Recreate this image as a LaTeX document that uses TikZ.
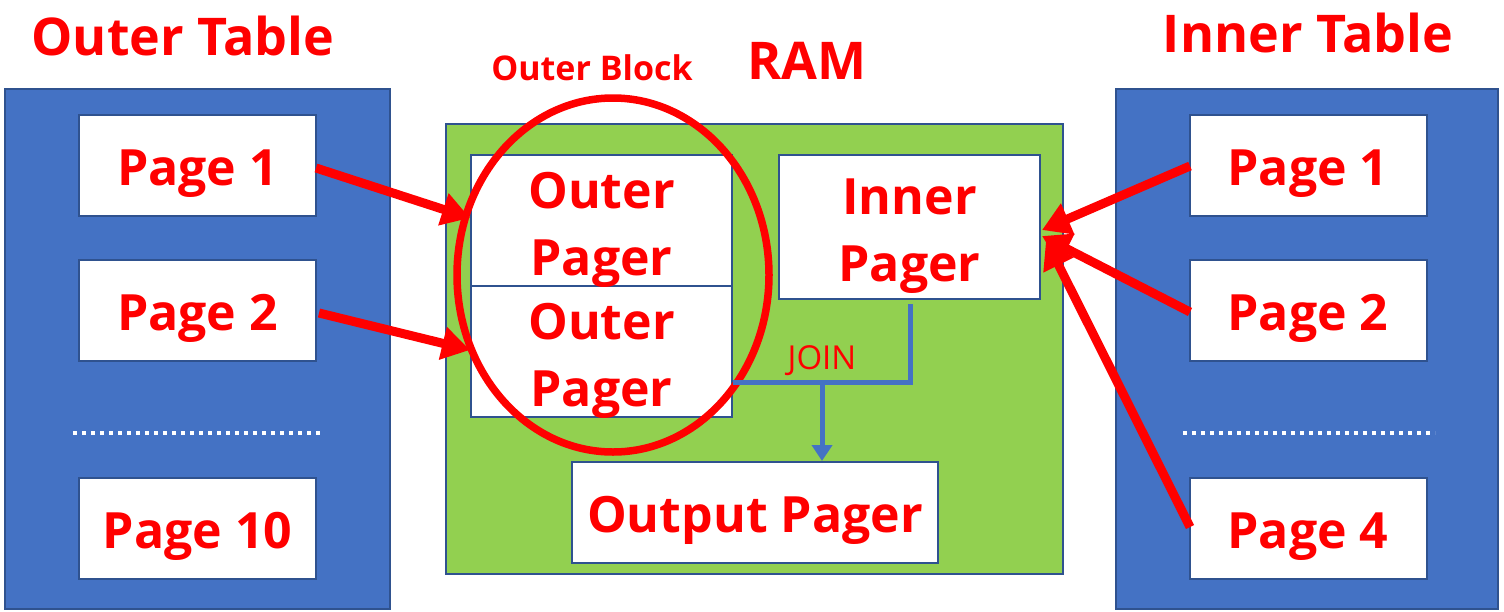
\documentclass[tikz,border=0pt]{standalone}
\usepackage{fontspec}
\setmainfont{Open Sans}
\usetikzlibrary{arrows.meta}
\definecolor{tblue}{HTML}{4472C4}
\definecolor{tborder}{HTML}{2F528F}
\definecolor{tgreen}{HTML}{92D050}
\definecolor{tred}{HTML}{FF0000}
\tikzset{
  panel/.style={draw=tborder, line width=2pt, fill=tblue},
  ram/.style={draw=tborder, line width=2pt, fill=tgreen},
  boxbase/.style={draw=tborder, line width=2pt, fill=white, inner sep=0pt},
  pagebox/.style={boxbase, minimum width=237pt, minimum height=101pt},
  redtext/.style={text=tred, inner sep=0pt, font=\fontsize{50}{67}\selectfont\bfseries, align=center},
  title/.style={text=tred, inner sep=0pt, font=\fontsize{52}{60}\selectfont\bfseries},
  redarrow/.style={draw=tred, line width=9pt, -{Triangle[length=28pt,width=32pt]}},
  joinline/.style={draw=tblue, line width=5pt},
  dots/.style={draw=white, line width=4pt, dash pattern=on 4pt off 5pt},
}
\begin{document}
\begin{tikzpicture}[x=1pt,y=-1pt]
\useasboundingbox (0,0) rectangle (1504,611);
% panels
\node[panel, minimum width=385pt, minimum height=520pt, inner sep=0pt] (lpanel) at (197.5,349) {};
\node[panel, minimum width=382pt, minimum height=520pt, inner sep=0pt] (rpanel) at (1307,349) {};
\node[ram, minimum width=617pt, minimum height=450pt, inner sep=0pt] (rampanel) at (754.5,349) {};
% titles
\node[title] (ltitle) at (183,36) {Outer Table};
\node[title] (rtitle) at (1308,33) {Inner Table};
\node[title] (ramtitle) at (807,61) {RAM};
\node[title, font=\fontsize{34}{40}\selectfont\bfseries] (obtitle) at (592,68) {Outer Block};
% left pages
\node[pagebox] (lp1) at (197.5,165.5) {};
\node[pagebox] (lp2) at (197.5,310.5) {};
\node[pagebox] (lp10) at (197.5,528.5) {};
\node[redtext] (lp1t) at ([yshift=-8pt]lp1.center) {Page 1};
\node[redtext] (lp2t) at ([yshift=-8pt]lp2.center) {Page 2};
\node[redtext] (lp10t) at ([yshift=-8pt]lp10.center) {Page 10};
\coordinate (ld1) at (73,433);
\coordinate (ld2) at (323,433);
\draw[dots] (ld1) -- (ld2);
% right pages
\node[pagebox] (rp1) at (1308,165.5) {};
\node[pagebox] (rp2) at (1308,310.5) {};
\node[pagebox] (rp4) at (1308,528.5) {};
\node[redtext] (rp1t) at ([yshift=-8pt]rp1.center) {Page 1};
\node[redtext] (rp2t) at ([yshift=-8pt]rp2.center) {Page 2};
\node[redtext] (rp4t) at ([yshift=-8pt]rp4.center) {Page 4};
\coordinate (rd1) at (1183,433);
\coordinate (rd2) at (1435,433);
\draw[dots] (rd1) -- (rd2);
% RAM contents
\node[boxbase, minimum width=261pt, minimum height=131pt] (op1) at (601.5,220.5) {};
\node[boxbase, minimum width=261pt, minimum height=131pt] (op2) at (601.5,351.5) {};
\node[boxbase, minimum width=261pt, minimum height=144pt] (ip) at (909.5,227) {};
\node[boxbase, minimum width=366pt, minimum height=101pt] (outp) at (755,512.5) {};
\node[redtext] (op1t) at ([yshift=-9pt]op1.center) {Outer\\Pager};
\node[redtext] (op2t) at ([yshift=-9pt]op2.center) {Outer\\Pager};
\node[redtext] (ipt) at ([yshift=-9pt]ip.center) {Inner\\Pager};
\node[redtext] (outpt) at ([yshift=-8pt]outp.center) {Output Pager};
% outer block ellipse
\draw[draw=tred, line width=7.5pt] (613,275) ellipse [x radius=156pt, y radius=177pt];
% join connector
\coordinate (jcorner) at (910,382);
\coordinate (jleft) at (733,382);
\coordinate (jmid) at (822,382);
\draw[joinline] (ip.south -| jcorner) ++(0,4) -- (jcorner) -- (jleft);
\draw[joinline, -{Triangle[length=16pt,width=20pt]}] (jmid) -- (outp.north -| jmid);
\node[text=tred, inner sep=0pt, font=\fontsize{33}{40}\selectfont] (join) at (822,361) {JOIN};
% red arrows
\coordinate (a1s) at (316,168);
\coordinate (a1e) at (470,218);
\coordinate (a2s) at (319,313);
\coordinate (a2e) at (470,350);
\draw[redarrow] (a1s) -- (a1e);
\draw[redarrow] (a2s) -- (a2e);
\coordinate (b1s) at (1190,166);
\coordinate (b2s) at (1190,312);
\coordinate (b4s) at (1190,527);
\coordinate (be) at (1042,230);
\coordinate (be2) at (1042,236);
\coordinate (be4) at (1046,240);
\draw[redarrow] (b1s) -- (be);
\draw[redarrow] (b2s) -- (be2);
\draw[redarrow] (b4s) -- (be4);
\end{tikzpicture}
\end{document}
